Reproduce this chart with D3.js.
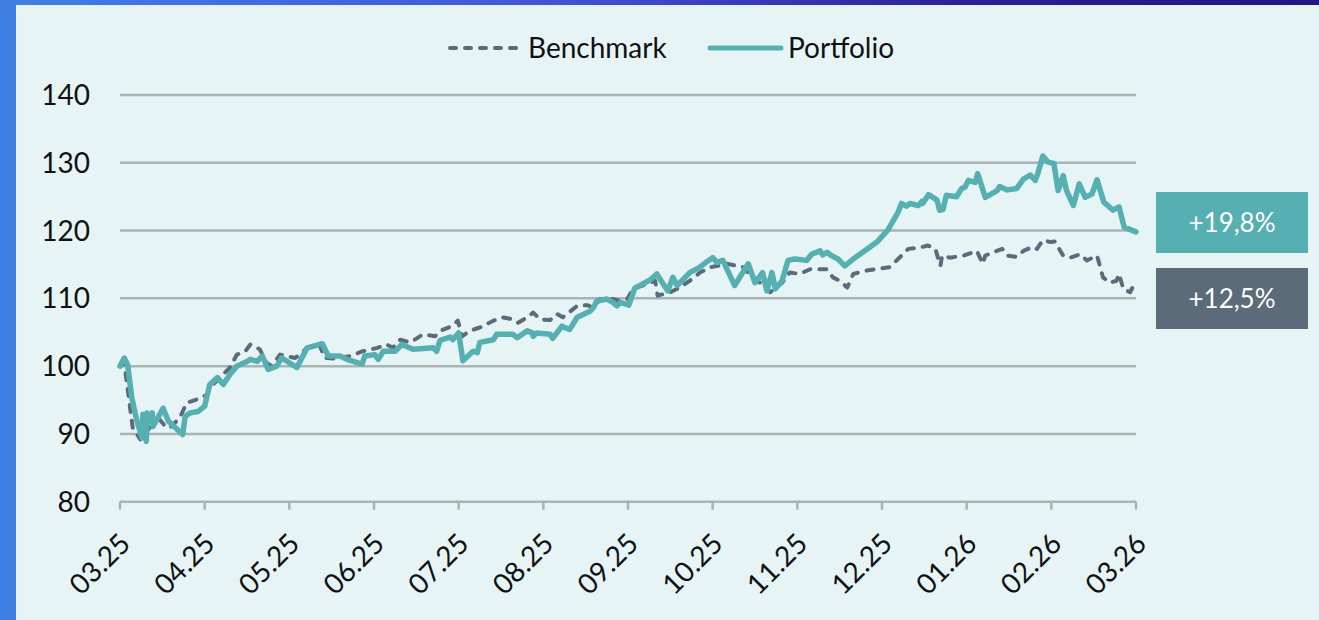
<!DOCTYPE html>
<html>
<head>
<meta charset="utf-8">
<script src="https://cdn.jsdelivr.net/npm/d3@7"></script>
<style>
    html, body { margin: 0; padding: 0; }
    body {
        width: 1319px; height: 620px; overflow: hidden;
        background: linear-gradient(90deg, #3f80e4 0%, #4356d8 40%, #2c1d92 75%, #24157f 100%);
    }
    #perf-chart {
        position: absolute; left: 16px; top: 5px; right: 0; bottom: 0;
        background: #e6f4f5;
    }
    text { font-family: Lato, "Open Sans", sans-serif; }
</style>
</head>
<body>
<div id="perf-chart"></div>
<script>
// months elapsed since 03.25 and index level (start = 100)
const monthLabels = ["03.25", "04.25", "05.25", "06.25", "07.25", "08.25", "09.25",
    "10.25", "11.25", "12.25", "01.26", "02.26", "03.26"];
const yTicks = [80, 90, 100, 110, 120, 130, 140];

const portfolioT = [0.00, 0.05, 0.09, 0.14, 0.20, 0.26, 0.27, 0.31, 0.32, 0.35, 0.38, 0.39, 0.51, 0.57,
    0.74, 0.77, 0.83, 0.92, 1.00, 1.06, 1.15, 1.22, 1.30, 1.38, 1.50, 1.54, 1.62, 1.68, 1.75, 1.85, 1.91,
    2.09, 2.21, 2.39, 2.46, 2.60, 2.68, 2.86, 2.89, 3.01, 3.05, 3.11, 3.25, 3.33, 3.46, 3.70, 3.74, 3.78,
    3.90, 3.93, 4.00, 4.05, 4.17, 4.22, 4.25, 4.41, 4.45, 4.64, 4.69, 4.81, 4.87, 4.88, 4.92, 5.08, 5.11,
    5.22, 5.31, 5.40, 5.55, 5.59, 5.63, 5.75, 5.82, 5.87, 5.91, 6.01, 6.08, 6.26, 6.34, 6.47, 6.53, 6.58,
    6.73, 6.85, 6.91, 7.00, 7.05, 7.12, 7.26, 7.42, 7.50, 7.59, 7.64, 7.70, 7.74, 7.82, 7.89, 7.97, 8.11,
    8.17, 8.27, 8.30, 8.35, 8.39, 8.48, 8.56, 8.66, 8.94, 9.07, 9.19, 9.23, 9.29, 9.33, 9.43, 9.47, 9.48,
    9.55, 9.65, 9.68, 9.72, 9.76, 9.88, 9.94, 9.98, 10.02, 10.10, 10.13, 10.22, 10.36, 10.39, 10.48, 10.59,
    10.67, 10.75, 10.81, 10.84, 10.90, 10.96, 11.03, 11.08, 11.14, 11.18, 11.26, 11.33, 11.40, 11.48, 11.54,
    11.62, 11.73, 11.80, 11.86, 12.00];
const portfolioV = [100.0, 101.2, 100.2, 95.3, 91.9, 89.4, 92.9, 88.9, 93.1, 91.9, 93.1, 91.1, 93.8, 91.9,
    89.9, 92.6, 93.1, 93.3, 94.1, 97.3, 98.3, 97.3, 98.8, 100.0, 100.7, 101.0, 100.7, 101.5, 99.5, 100.0, 101.2,
    99.8, 102.7, 103.3, 101.5, 101.5, 101.0, 100.3, 101.5, 101.7, 101.0, 102.2, 102.2, 103.2, 102.5, 102.7, 102.2, 103.8,
    104.3, 103.9, 104.9, 100.8, 102.2, 102.0, 103.5, 103.9, 104.7, 104.7, 104.2, 105.2, 104.9, 104.4, 104.9, 104.7, 104.1,
    105.9, 105.4, 107.2, 108.1, 108.6, 109.6, 109.9, 109.4, 108.9, 109.4, 109.0, 111.5, 112.7, 113.6, 111.1, 113.1, 111.9,
    113.8, 114.6, 115.2, 116.0, 115.3, 115.6, 111.9, 115.1, 112.3, 113.8, 111.1, 113.8, 111.4, 112.6, 115.6, 115.8, 115.6,
    116.5, 117.0, 116.4, 116.8, 116.4, 115.8, 114.8, 115.8, 118.3, 120.1, 122.7, 124.0, 123.6, 124.0, 123.7, 124.3, 124.0,
    125.3, 124.5, 123.0, 123.1, 125.2, 125.0, 126.2, 126.4, 127.4, 127.1, 128.4, 124.9, 125.9, 126.5, 126.0, 126.2,
    127.6, 128.2, 127.4, 128.4, 131.0, 130.1, 129.9, 125.9, 128.1, 125.9, 123.7, 126.9, 124.9, 125.4, 127.5,
    124.2, 123.0, 123.5, 120.5, 119.8];

const benchmarkT = [0.00, 0.05, 0.12, 0.15, 0.24, 0.35, 0.47, 0.55, 0.61, 0.71, 0.79, 0.91, 1.03, 1.06,
    1.18, 1.30, 1.38, 1.48, 1.54, 1.65, 1.73, 1.79, 1.89, 2.07, 2.15, 2.21, 2.36, 2.42, 2.56, 2.72, 2.87,
    3.04, 3.15, 3.22, 3.31, 3.43, 3.58, 3.72, 3.78, 3.92, 3.99, 4.04, 4.13, 4.25, 4.41, 4.52, 4.64, 4.70,
    4.81, 4.88, 4.96, 5.08, 5.16, 5.23, 5.40, 5.52, 5.59, 5.67, 5.82, 5.91, 5.99, 6.06, 6.26, 6.32, 6.35,
    6.50, 6.61, 6.73, 6.85, 6.97, 7.06, 7.17, 7.36, 7.44, 7.56, 7.68, 7.82, 7.91, 8.03, 8.15, 8.35, 8.42,
    8.50, 8.59, 8.66, 8.82, 9.09, 9.19, 9.31, 9.45, 9.54, 9.63, 9.69, 9.71, 9.80, 9.96, 10.12, 10.19, 10.22,
    10.31, 10.42, 10.48, 10.59, 10.67, 10.78, 10.83, 10.90, 10.99, 11.04, 11.14, 11.22, 11.34, 11.42, 11.54,
    11.61, 11.69, 11.77, 11.80, 11.85, 11.93, 12.00];
const benchmarkV = [100.0, 100.5, 93.8, 90.9, 89.2, 90.9, 92.1, 90.9, 91.1, 92.5, 94.6, 95.1, 95.8, 96.8,
    98.3, 99.8, 101.7, 102.2, 103.2, 102.5, 100.5, 100.0, 101.7, 101.2, 102.0, 102.7, 103.0, 101.2, 101.1, 101.5, 102.2,
    102.7, 103.2, 102.7, 103.9, 103.5, 104.7, 104.4, 105.2, 105.9, 106.7, 104.4, 105.2, 105.7, 106.7, 107.2, 106.9, 106.4,
    107.2, 107.9, 106.9, 106.8, 107.7, 107.2, 108.9, 109.0, 108.6, 109.9, 109.9, 109.6, 109.9, 111.4, 112.3, 112.6, 110.4,
    110.9, 111.6, 112.6, 113.8, 114.6, 114.8, 115.1, 114.6, 113.5, 112.3, 110.9, 112.3, 113.8, 113.6, 114.3, 114.3, 113.1,
    112.6, 111.6, 113.6, 114.1, 114.6, 115.8, 117.3, 117.5, 117.8, 117.3, 114.8, 116.3, 116.0, 116.3, 117.0, 115.1, 116.3,
    116.8, 117.3, 116.3, 116.1, 117.0, 117.6, 117.3, 118.6, 118.3, 118.4, 116.3, 116.0, 116.5, 115.6, 116.3,
    113.1, 112.3, 112.6, 113.6, 111.4, 110.9, 112.6];

const perfLabels = ["+19,8%", "+12,5%"];
const colors = { portfolio: "#56afb1", benchmark: "#5c6b79", grid: "#a9b4b4" };

const width = 1303, height = 615;
const svg = d3.select("#perf-chart").append("svg")
    .attr("width", width).attr("height", height);

// panel is shifted 16px right / 5px down, so subtract that from picture coords
const xScale = d3.scaleLinear().domain([0, 12]).range([104, 1120]);
const yScale = d3.scaleLinear().domain([80, 140]).range([496.7, 90]);

// gridlines (the 80 line doubles as x axis)
svg.append("g").selectAll("line").data(yTicks).enter().append("line")
    .attr("x1", xScale(0)).attr("x2", xScale(12))
    .attr("y1", d => yScale(d)).attr("y2", d => yScale(d))
    .attr("stroke", colors.grid).attr("stroke-width", 2.5);

svg.append("g").selectAll("text").data(yTicks).enter().append("text")
    .attr("x", 74).attr("y", d => yScale(d)).attr("dy", "0.36em")
    .attr("text-anchor", "end").attr("font-size", 28).attr("fill", "#111")
    .text(d => d);

// x axis ticks + rotated labels
let xAxis = svg.append("g");
xAxis.selectAll("line").data(monthLabels).enter().append("line")
    .attr("x1", (d, i) => xScale(i)).attr("x2", (d, i) => xScale(i))
    .attr("y1", yScale(80)).attr("y2", yScale(80) + 8)
    .attr("stroke", colors.grid).attr("stroke-width", 2.5);
xAxis.selectAll("text").data(monthLabels).enter().append("text")
    .attr("transform", (d, i) => `translate(${xScale(i) - 2},${yScale(80) + 30}) rotate(-45)`)
    .attr("text-anchor", "end").attr("dy", "0.7em")
    .attr("font-size", 28).attr("fill", "#111")
    .text(d => d);

// series
let line = d3.line().x(d => xScale(d[0])).y(d => yScale(d[1])).curve(d3.curveLinear);

svg.append("path")
    .datum(d3.zip(benchmarkT, benchmarkV))
    .attr("d", line).attr("fill", "none")
    .attr("stroke", colors.benchmark).attr("stroke-width", 4)
    .attr("stroke-dasharray", "7,9").attr("stroke-linecap", "round")
    .attr("stroke-linejoin", "round");

svg.append("path")
    .datum(d3.zip(portfolioT, portfolioV))
    .attr("d", line).attr("fill", "none")
    .attr("stroke", colors.portfolio).attr("stroke-width", 5.5)
    .attr("stroke-linejoin", "round").attr("stroke-linecap", "round");

// legend
let legend = svg.append("g").attr("transform", "translate(0,43)");
legend.append("line").attr("x1", 434).attr("x2", 504).attr("y1", 0).attr("y2", 0)
    .attr("stroke", colors.benchmark).attr("stroke-width", 4)
    .attr("stroke-dasharray", "6,9").attr("stroke-linecap", "round");
legend.append("text").attr("x", 512).attr("y", 0).attr("dy", "0.36em")
    .attr("font-size", 28).attr("fill", "#111").text("Benchmark");
legend.append("line").attr("x1", 694).attr("x2", 765).attr("y1", 0).attr("y2", 0)
    .attr("stroke", colors.portfolio).attr("stroke-width", 5).attr("stroke-linecap", "round");
legend.append("text").attr("x", 772).attr("y", 0).attr("dy", "0.36em")
    .attr("font-size", 28).attr("fill", "#111").text("Portfolio");

// performance boxes
let boxes = svg.append("g");
let boxColors = [colors.portfolio, colors.benchmark];
perfLabels.forEach((lbl, i) => {
    let y0 = 187 + i * 76;
    boxes.append("rect").attr("x", 1140).attr("y", y0).attr("width", 152).attr("height", 61)
        .attr("fill", boxColors[i]);
    boxes.append("text").attr("x", 1140 + 76).attr("y", y0 + 30.5).attr("dy", "0.36em")
        .attr("text-anchor", "middle").attr("font-size", 26).attr("fill", "#fff").text(lbl);
});
</script>
</body>
</html>
